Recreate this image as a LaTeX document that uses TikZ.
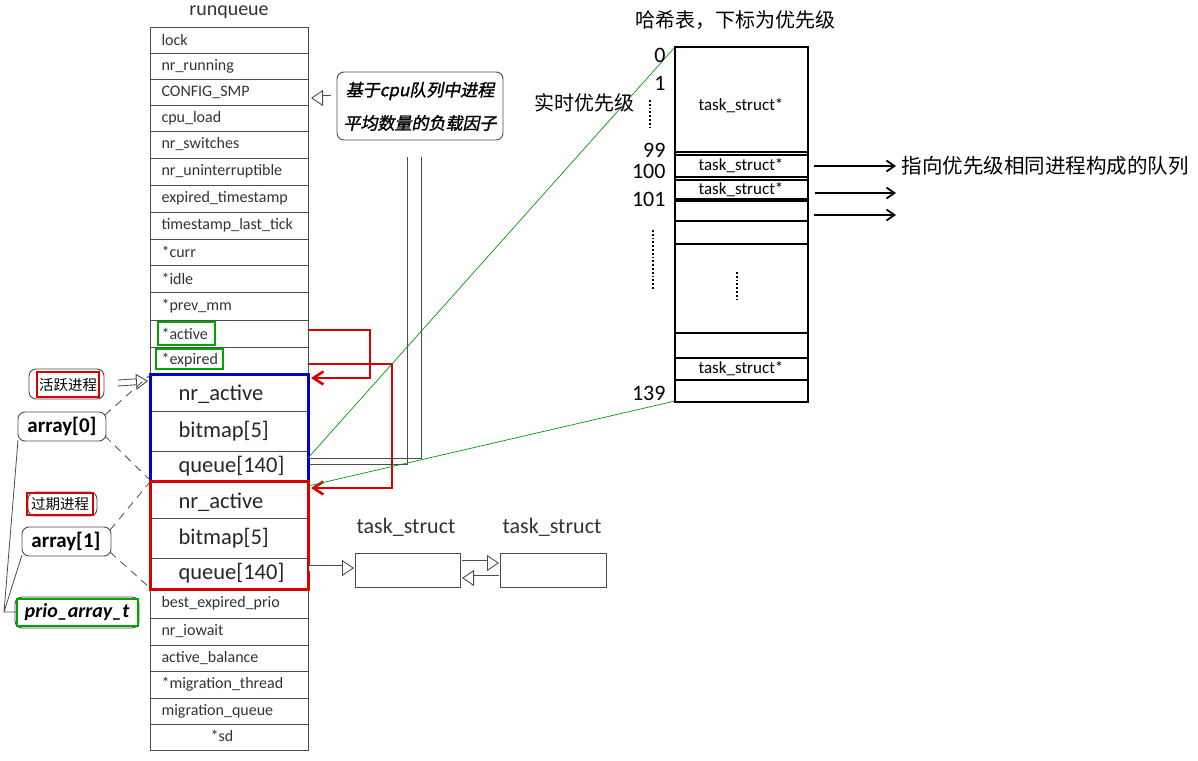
\documentclass[tikz,border=0pt]{standalone}
\usepackage{fontspec}
\setmainfont{Carlito}
\newfontfamily\cjk{Noto Sans CJK SC}
\newfontfamily\cjki[FakeSlant=0.2,FakeBold=1.5]{Noto Sans CJK SC}
\usetikzlibrary{arrows.meta,calc}
\begin{document}
\begin{tikzpicture}[x=1pt,y=-1pt,
  cell/.style={draw=black!70,line width=0.9pt},
  rowtxt/.style={anchor=west,font=\fontsize{16}{16}\selectfont,text=black!80},
  bigtxt/.style={anchor=west,font=\fontsize{22.5}{22.5}\selectfont,text=black!85},
  hollow/.style={draw=black!70,double=white,double distance=5pt,line width=0.9pt,-{Triangle[open,length=12pt,width=16pt]}},
  redar/.style={draw=red!85!black,line width=2.6pt},
  bubble/.style={draw=black!70,rounded corners=7pt,line width=0.9pt},
  gl/.style={draw=green!60!black,line width=0.7pt},
  hs/.style={draw=black,line width=1.8pt}]
\useasboundingbox (0,0) rectangle (1198,760);
\node[font=\fontsize{20}{20}\selectfont,text=black!80] (title) at (229,12) {runqueue};
\foreach \t/\a/\b [count=\i] in {lock/27/53,nr\_running/53/79,CONFIG\_SMP/79/105,cpu\_load/105/131,nr\_switches/131/158,nr\_uninterruptible/158/185,expired\_timestamp/185/212,timestamp\_last\_tick/212/239,*curr/239/265,*idle/265/292,*prev\_mm/292/320,*active/320/347,*expired/347/374,best\_expired\_prio/589/618,nr\_iowait/618/645,active\_balance/645/671,*migration\_thread/671/698,migration\_queue/698/724}{
  \draw[cell] (150,\a) rectangle (308,\b);
  \node[rowtxt] (r\i) at (158,{(\a+\b)/2}) {\t};
}
\draw[cell] (150,724) rectangle (308,750);
\node[font=\fontsize{16}{16}\selectfont,text=black!80] (sd) at (222,736) {*sd};
\draw[green!65!black,line width=2.2pt] (158,322) rectangle (215,345);
\draw[green!65!black,line width=2.2pt] (156,349) rectangle (223,369);
\draw[cell] (150,411) -- (308,411) (150,451) -- (308,451);
\draw[blue!80!black,line width=3pt] (150,374) rectangle (308,481);
\node[bigtxt] (a1) at (175,394) {nr\_active};
\node[bigtxt] (a2) at (175,431) {bitmap[5]};
\node[bigtxt] (a3) at (175,466) {queue[140]};
\draw[cell] (150,518) -- (308,518) (150,558) -- (308,558);
\draw[red!85!black,line width=3pt] (150,481) rectangle (308,589);
\node[bigtxt] (e1) at (175,502) {nr\_active};
\node[bigtxt] (e2) at (175,538) {bitmap[5]};
\node[bigtxt] (e3) at (175,573) {queue[140]};
\draw[bubble] (337,72) rectangle (503,140);
\node[font=\cjki\fontsize{17}{17}\selectfont] (cb1) at (420,91) {基于cpu队列中进程};
\node[font=\cjki\fontsize{17}{17}\selectfont] (cb2) at (420,123) {平均数量的负载因子};
\draw[hollow] (331,98) -- (311,98);
\draw[black!70,line width=0.9pt] (407,157) -- (407,464) -- (310,464);
\draw[black!70,line width=0.9pt] (421,157) -- (421,458) -- (310,458);
\draw[redar,-{Straight Barb[length=10pt,width=13pt]}] (308,330) -- (370,330) -- (370,378) -- (311,378);
\draw[redar,-{Straight Barb[length=10pt,width=13pt]}] (308,364) -- (392,364) -- (392,488) -- (311,488);
\draw[bubble] (29,369) rectangle (104,399);
\draw[red!85!black,line width=2.2pt] (37,372) rectangle (99,397);
\node[font=\cjk\fontsize{14.5}{14.5}\selectfont] (act) at (68,385) {活跃进程};
\draw[bubble] (18,412) rectangle (106,441);
\node[font=\bfseries\fontsize{21}{21}\selectfont] (arr0) at (62,426) {array[0]};
\draw[bubble] (28,492) rectangle (97,516);
\draw[red!85!black,line width=2.2pt] (27,493) rectangle (93,515);
\node[font=\cjk\fontsize{14.5}{14.5}\selectfont] (exp) at (60,504) {过期进程};
\draw[bubble] (22,527) rectangle (111,556);
\node[font=\bfseries\fontsize{21}{21}\selectfont] (arr1) at (66,541) {array[1]};
\draw[bubble] (15,597) rectangle (139,628);
\draw[green!65!black,line width=2.6pt] (17,599) rectangle (138,626);
\node[font=\bfseries\itshape\fontsize{20}{20}\selectfont] (pat) at (77,612) {prio\_array\_t};
\draw[hollow] (118,383) -- (148,381);
\draw[black!70,line width=0.8pt,dash pattern=on 8pt off 6pt] (105,415) -- (150,375) (105,436) -- (150,480) (110,530) -- (150,482) (110,552) -- (150,588);
\draw[black!70,line width=0.8pt] (17,612) -- (4,612) -- (18,440) (4,612) -- (22,555);
\node[font=\fontsize{22}{22}\selectfont,text=black!80] (t1l) at (406,527) {task\_struct};
\node[font=\fontsize{22}{22}\selectfont,text=black!80] (t2l) at (552,527) {task\_struct};
\draw[cell] (355,553) rectangle (460,587);
\draw[cell] (500,553) rectangle (606,587);
\draw[hollow] (309,568) -- (354,568);
\draw[hollow] (462,563) -- (499,563);
\draw[hollow] (499,578) -- (462,578);
\draw[gl] (308,458) -- (675,47);
\draw[gl] (308,486) -- (675,401);
\node[font=\cjk\fontsize{20}{20}\selectfont] (ht) at (735,20) {哈希表，下标为优先级};
\draw[hs] (675,47) rectangle (808,402);
\foreach \y in {152,177,199,221,244,333,358,380}{\draw[hs] (675,\y) -- (808,\y);}
\draw[hs] (675,155) -- (808,155) (675,180) -- (808,180) (675,201) -- (808,201);
\node[font=\fontsize{17}{17}\selectfont] (h1) at (741,106) {task\_struct*};
\node[font=\fontsize{17}{17}\selectfont] (h2) at (741,166) {task\_struct*};
\node[font=\fontsize{17}{17}\selectfont] (h3) at (741,190) {task\_struct*};
\node[font=\fontsize{17}{17}\selectfont] (h4) at (741,369) {task\_struct*};
\draw[line width=1.8pt,dotted] (737,272) -- (737,300);
\foreach \t/\y in {0/55,1/83,99/150,100/171,101/199,139/393}{\node[font=\fontsize{22}{22}\selectfont,anchor=east] (n\t) at (669,\y) {\t};}
\draw[line width=1.8pt,dotted] (650,100) -- (650,128);
\draw[line width=1.8pt,dotted] (653,230) -- (653,290);
\node[font=\cjk\fontsize{20}{20}\selectfont] (rt) at (584,103) {实时优先级};
\coordinate (q1) at (896,166);\coordinate (q2) at (896,193);\coordinate (q3) at (896,215);
\draw[line width=1.8pt,-{Straight Barb[length=8pt,width=11pt]}] (814,166) -- (q1);
\draw[line width=1.8pt,-{Straight Barb[length=8pt,width=11pt]}] (815,193) -- (q2);
\draw[line width=1.8pt,-{Straight Barb[length=8pt,width=11pt]}] (814,215) -- (q3);
\node[font=\cjk\fontsize{20.5}{20.5}\selectfont,anchor=west] (qt) at (898,166) {指向优先级相同进程构成的队列};
\end{tikzpicture}
\end{document}
